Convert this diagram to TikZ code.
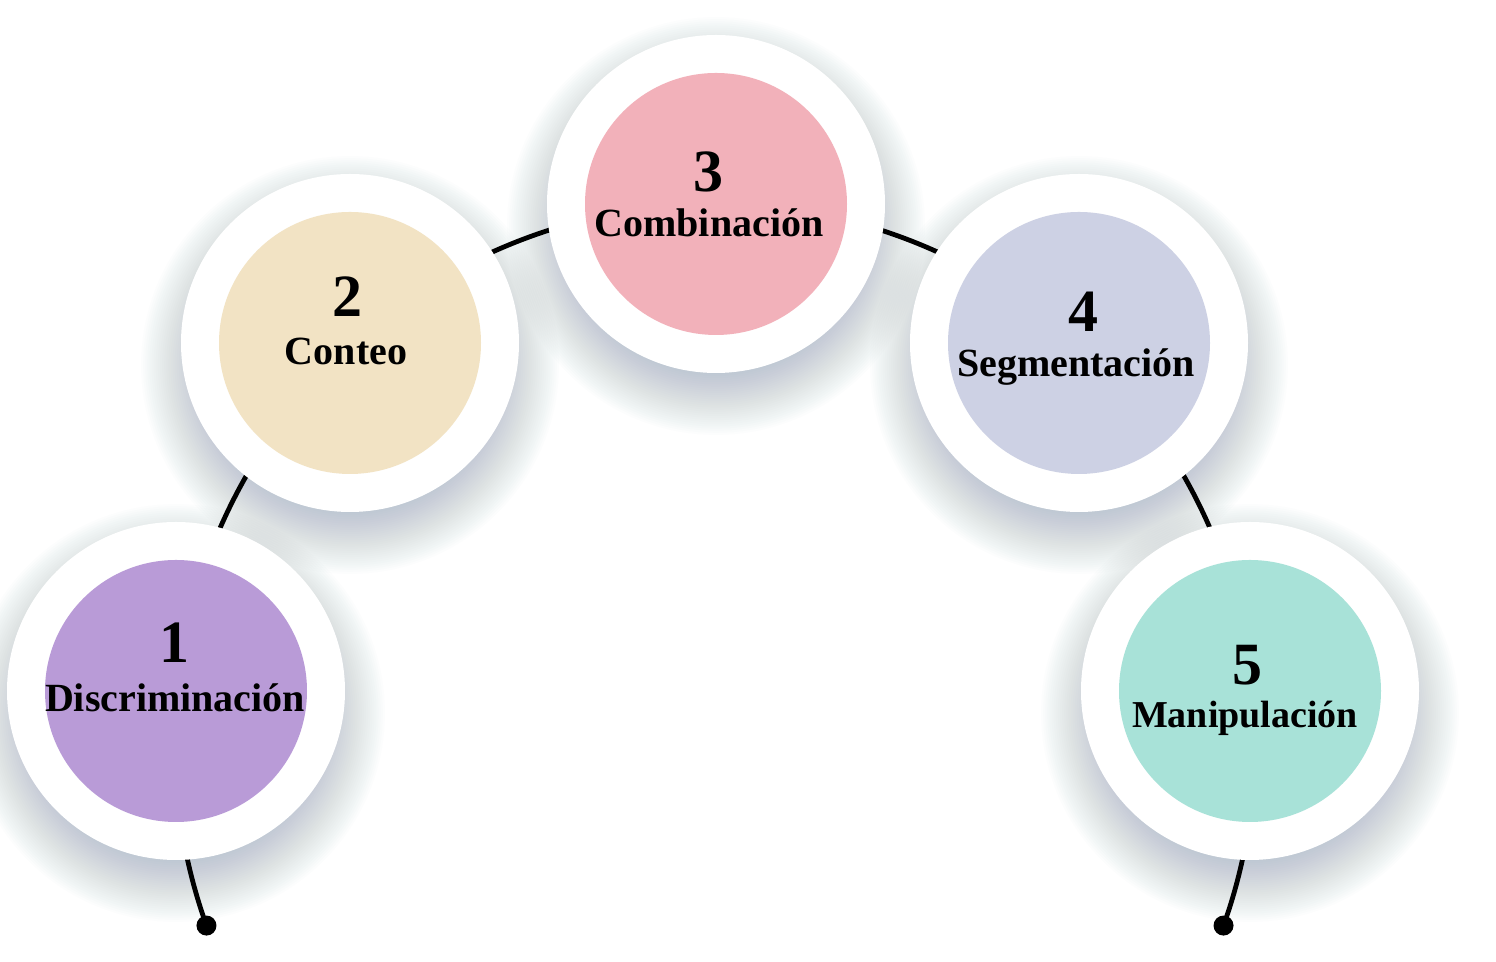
\documentclass[tikz,border=0pt]{standalone}
\usepackage{fontspec}
\setmainfont{Liberation Serif}
\definecolor{col1}{HTML}{B99BD7}
\definecolor{col2}{HTML}{F2E3C4}
\definecolor{col3}{HTML}{F2B1BA}
\definecolor{col4}{HTML}{CDD1E4}
\definecolor{col5}{HTML}{A8E2D8}
\definecolor{shadowc}{HTML}{8C9BB0}
\begin{document}
\begin{tikzpicture}[x=0.5pt,y=0.5pt,
  outer/.style={circle,fill=white,minimum size=169pt,inner sep=0pt},
  innerc/.style={circle,minimum size=131pt,inner sep=0pt},
  num/.style={font=\fontsize{30}{30}\selectfont\bfseries,anchor=base,inner sep=0pt},
  lab/.style={font=\fontsize{20}{20}\selectfont\bfseries,anchor=base,inner sep=0pt},
  link/.style={line width=2.4pt,black},
  dot/.style={circle,fill=black,minimum size=10pt,inner sep=0pt},
  shadowlayer/.style={fill=shadowc,opacity=0.018}]
\useasboundingbox (0,0) rectangle (1496,962);
\fill[white] (0,0) rectangle (1496,962);
\coordinate (c1) at (176,271);
\coordinate (c2) at (350,619);
\coordinate (c3) at (716,758);
\coordinate (c4) at (1079,619);
\coordinate (c5) at (1250,271);
\coordinate (arcc) at (715,218);
% shadows
\foreach \c in {c1,c2,c3,c4,c5}{
  \foreach \k in {0,...,29}{
    \fill[shadowlayer] ([yshift=-11pt]\c) circle[radius={74pt+\k*1.05pt}];
  }
}
% arc connector
\path (arcc) ++(199.65:270pt) coordinate (dL);
\path (arcc) ++(-19.65:270pt) coordinate (dR);
\draw[link] (dL) arc[start angle=199.65, end angle=-19.65, radius=270pt];
\node[dot] (dotL) at (dL) {};
\node[dot] (dotR) at (dR) {};
% circles
\node[outer] (o1) at (c1) {};
\node[outer] (o2) at (c2) {};
\node[outer] (o3) at (c3) {};
\node[outer] (o4) at (c4) {};
\node[outer] (o5) at (c5) {};
\node[innerc,fill=col1] (i1) at (c1) {};
\node[innerc,fill=col2] (i2) at (c2) {};
\node[innerc,fill=col3] (i3) at (c3) {};
\node[innerc,fill=col4] (i4) at (c4) {};
\node[innerc,fill=col5] (i5) at (c5) {};
% texts
\node[num] (n1) at (174,299) {1};
\node[lab] (l1) at (175,250) {Discriminación};
\node[num] (n2) at (347,645) {2};
\node[lab] (l2) at (346,597) {Conteo};
\node[num] (n3) at (708,770) {3};
\node[lab] (l3) at (709,725) {Combinación};
\node[num] (n4) at (1083,630) {4};
\node[lab] (l4) at (1076,585) {Segmentación};
\node[num] (n5) at (1247,277) {5};
\node[lab,font=\fontsize{19}{19}\selectfont\bfseries] (l5) at (1245,234) {Manipulación};
\end{tikzpicture}
\end{document}
